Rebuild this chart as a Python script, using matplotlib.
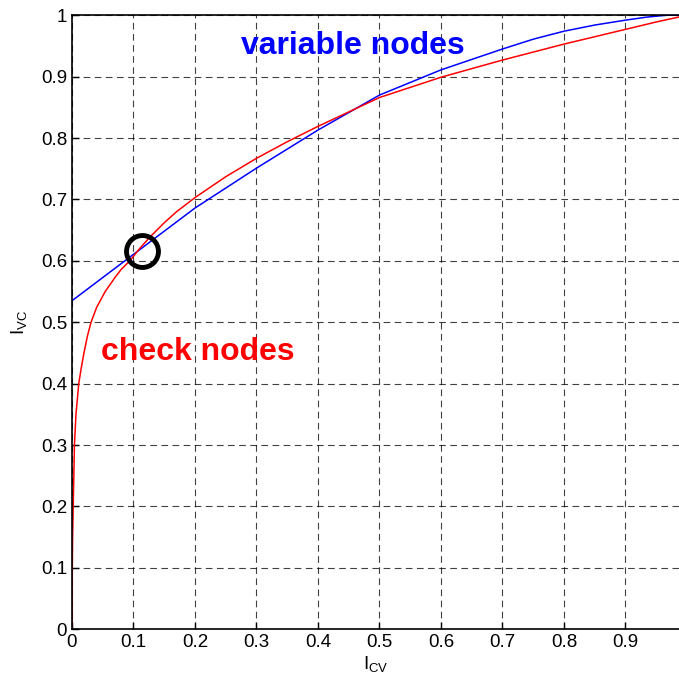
import matplotlib
matplotlib.use("Agg")
import matplotlib.pyplot as plt
import numpy as np

plt.rcParams['font.family'] = ['Liberation Sans', 'DejaVu Sans']
plt.rcParams['mathtext.default'] = 'regular'

# check node curve (red)
check_x = [0, 0.0005, 0.001, 0.002, 0.004, 0.0065, 0.011, 0.015, 0.0195, 0.025, 0.031, 0.04,
           0.054, 0.07, 0.08, 0.094, 0.11, 0.127, 0.15, 0.17, 0.2, 0.25, 0.3, 0.35, 0.4, 0.5,
           0.6, 0.7, 0.8, 0.9, 0.95, 1.0]
check_y = [0, 0.1, 0.15, 0.2, 0.3, 0.35, 0.4, 0.425, 0.45, 0.477, 0.5, 0.524,
           0.55, 0.573, 0.586, 0.6, 0.62, 0.639, 0.662, 0.68, 0.703, 0.737, 0.767, 0.794, 0.819, 0.866,
           0.899, 0.927, 0.953, 0.977, 0.989, 1.0]

# variable node curve (blue)
var_x = [0, 0.086, 0.2, 0.3, 0.4, 0.5, 0.6, 0.7, 0.75, 0.8, 0.85, 0.9, 0.935, 0.967, 1.0]
var_y = [0.535, 0.6, 0.686, 0.751, 0.813, 0.870, 0.911, 0.945, 0.961, 0.974, 0.984, 0.992, 0.997, 1.0, 1.0]

# crossing point marked with a circle
cross_x = [0.114]
cross_y = [0.616]

xticks = np.arange(0, 1.0, 0.1)
yticks = np.arange(0, 1.01, 0.1)
xlabels = ['0', '0.1', '0.2', '0.3', '0.4', '0.5', '0.6', '0.7', '0.8', '0.9']
ylabels = ['0', '0.1', '0.2', '0.3', '0.4', '0.5', '0.6', '0.7', '0.8', '0.9', '1']

fig = plt.figure(figsize=(6.79, 6.80), dpi=100)
ax = fig.add_axes([0.106, 0.0746, 0.894, 0.903])

ax.plot(var_x, var_y, color='#0000ff', lw=1.1)
ax.plot(check_x, check_y, color='#ff0000', lw=1.1)
ax.plot(cross_x, cross_y, 'o', mfc='none', mec='black', ms=23, mew=3.5)

ax.text(0.457, 0.95, 'variable nodes', color='#0000ff', fontsize=23, fontweight='bold',
        ha='center', va='center')
ax.text(0.205, 0.452, 'check nodes', color='#ff0000', fontsize=23, fontweight='bold',
        ha='center', va='center')

ax.set_xlim(0, 0.987)
ax.set_ylim(0, 1)
ax.set_xticks(xticks)
ax.set_xticklabels(xlabels)
ax.set_yticks(yticks)
ax.set_yticklabels(ylabels)
ax.tick_params(direction='in', length=5, labelsize=13.5, width=1)
ax.grid(True, color='black', linestyle=(0, (6, 4)), linewidth=0.8, alpha=0.75)

for s in ['left', 'bottom', 'top']:
    ax.spines[s].set_linewidth(1.2)
ax.spines['right'].set_visible(False)

ax.set_xlabel('$I_{CV}$', fontsize=13.5)
ax.set_ylabel('$I_{VC}$', fontsize=13.5)
ax.xaxis.set_label_coords(0.5, -0.04)
ax.yaxis.set_label_coords(-0.07, 0.5)

fig.savefig('out.png', dpi=100)
